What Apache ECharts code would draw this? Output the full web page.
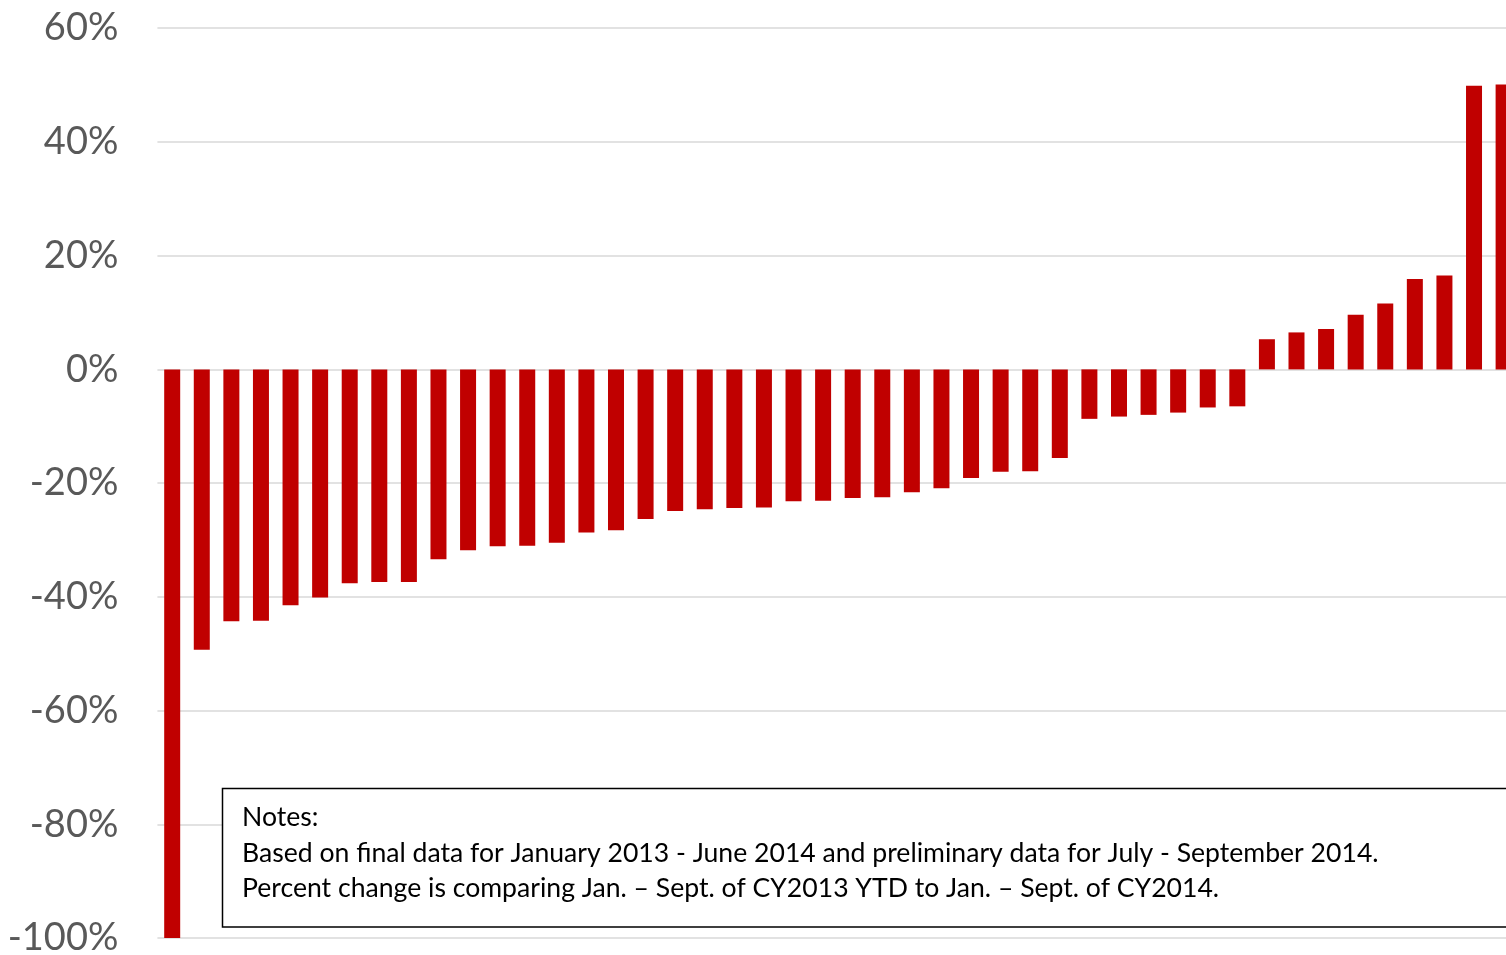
<!DOCTYPE html>
<html>
<head>
<meta charset="utf-8">
<title>Percent change, Jan.–Sept. CY2013 vs CY2014</title>
<script src="https://cdn.jsdelivr.net/npm/echarts@6/dist/echarts.min.js"></script>
<style>
  html, body { margin: 0; padding: 0; background: #ffffff; }
  #chart { width: 1506px; height: 955px; }
</style>
</head>
<body>
<div id="chart"></div>
<script>
// Ranked entities, sorted from largest decline to largest increase
const categories = [
  '1', '2', '3', '4', '5', '6', '7', '8', '9', '10',
  '11', '12', '13', '14', '15', '16', '17', '18', '19', '20',
  '21', '22', '23', '24', '25', '26', '27', '28', '29', '30',
  '31', '32', '33', '34', '35', '36', '37', '38', '39', '40',
  '41', '42', '43', '44', '45', '46'
];

// Percent change, Jan.–Sept. CY2013 YTD to Jan.–Sept. CY2014
const percentChange = [
  -100.0, -49.3, -44.3, -44.2, -41.5, -40.1, -37.6, -37.4, -37.4, -33.4,
  -31.8, -31.1, -31.0, -30.5, -28.7, -28.3, -26.3, -24.9, -24.6, -24.4,
  -24.3, -23.2, -23.1, -22.6, -22.5, -21.6, -20.9, -19.1, -18.0, -17.9,
  -15.6, -8.7, -8.3, -8.0, -7.6, -6.7, -6.5, 5.3, 6.5, 7.1,
  9.6, 11.6, 15.9, 16.5, 49.9, 50.1
];

// Value axis range and step
const yMin = -100;
const yMax = 60;
const yStep = 20;

const noteLines = [
  'Notes:',
  'Based on final data for January 2013 - June 2014 and preliminary data for July - September 2014.',
  'Percent change is comparing Jan. \u2013 Sept. of CY2013 YTD to Jan. \u2013 Sept. of CY2014.'
];

const chart = echarts.init(document.getElementById('chart'), null, { renderer: 'canvas' });

const option = {
  animation: false,
  backgroundColor: '#ffffff',
  grid: {
    left: 157.4,
    top: 28.2,
    width: 1361,
    height: 909.8,
    containLabel: false,
    outerBoundsMode: 'none'
  },
  xAxis: {
    type: 'category',
    data: categories,
    axisLine: { show: false },
    axisTick: { show: false },
    axisLabel: { show: false },
    splitLine: { show: false }
  },
  yAxis: {
    type: 'value',
    min: yMin,
    max: yMax,
    interval: yStep,
    axisLine: { show: false },
    axisTick: { show: false },
    axisLabel: {
      formatter: '{value}%',
      color: '#595959',
      fontFamily: 'Lato',
      fontSize: 38,
      margin: 39
    },
    splitLine: {
      lineStyle: { color: '#d9d9d9', width: 1.5 }
    }
  },
  series: [{
    type: 'bar',
    data: percentChange,
    barWidth: 16,
    itemStyle: { color: '#c00000' },
    clip: true
  }],
  graphic: [
    {
      type: 'rect',
      shape: { x: 222.5, y: 788.5, width: 1400, height: 138.5 },
      style: { fill: '#ffffff', stroke: '#000000', lineWidth: 1.5 },
      z: 10
    },
    {
      type: 'text',
      x: 242,
      y: 800,
      z: 11,
      style: {
        text: noteLines.join('\n'),
        fill: '#000000',
        font: '26.6px Lato',
        lineHeight: 35.5,
        textVerticalAlign: 'top'
      }
    }
  ]
};

chart.setOption(option);
</script>
</body>
</html>
